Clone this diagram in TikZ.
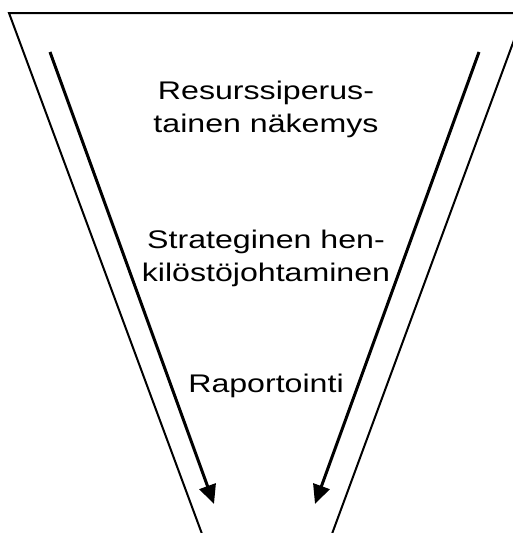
\documentclass[tikz,border=0pt]{standalone}
\usepackage{fontspec}
\setmainfont{Liberation Sans}
\newfontfamily\widefont[FakeStretch=1.26]{Liberation Sans}
\usepackage{tikz}
\usetikzlibrary{arrows.meta}
\usetikzlibrary{positioning}

\begin{document}
\begin{tikzpicture}[x=1pt, y=-1pt]
\tikzstyle{funnelline} = [line width=2pt]
\tikzstyle{flowarrow} = [line width=3pt, -{Triangle[length=19pt, width=17pt]}]
\tikzstyle{level} = [align=center, inner sep=0pt, font=\widefont\fontsize{25.5}{33}\selectfont]
\useasboundingbox (0,0) rectangle (513,533);
\clip (0,0) rectangle (513,533);
\coordinate (topleft) at (9,13);
\coordinate (topright) at (524,13);
\coordinate (botleft) at (205,542);
\coordinate (botright) at (329,542);
\coordinate (lstart) at (50,52);
\coordinate (lend) at (214,504);
\coordinate (rstart) at (479,52);
\coordinate (rend) at (315,504);
\node (res) [level] at (266,109) {Resurssiperus-\\tainen näkemys};
\node (shj) [level] at (266,258) {Strateginen hen-\\kilöstöjohtaminen};
\node (rap) [level] at (266,386) {Raportointi};
\draw [funnelline] (botleft) -- (topleft) -- (topright) -- (botright);
\draw [flowarrow] (lstart) -- (lend);
\draw [flowarrow] (rstart) -- (rend);
\end{tikzpicture}
\end{document}
